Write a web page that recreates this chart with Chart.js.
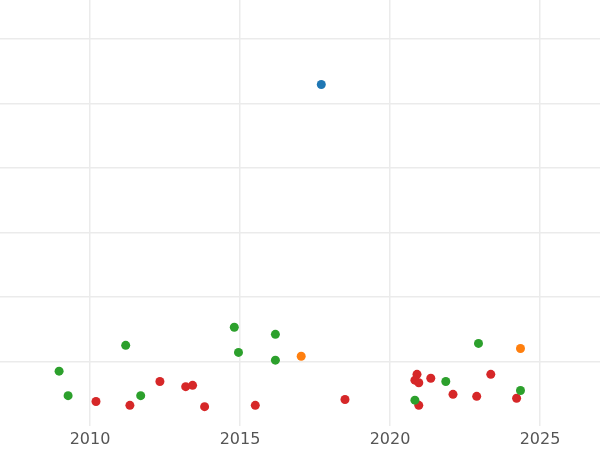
<!DOCTYPE html>
<html><head><meta charset="utf-8">
<script src="https://cdn.jsdelivr.net/npm/chart.js@4"></script>
<style>html,body{margin:0;padding:0;background:#fff}#c{display:block}</style>
</head><body>
<div style="width:600px;height:450px"><canvas id="c"></canvas></div>
<script>
const blueX=[2017.71], blueY=[5.29];
const orangeX=[2017.04,2024.35], orangeY=[1.08,1.20];
const greenX=[2008.97,2009.27,2011.19,2011.69,2014.81,2014.95,2016.18,2016.18,2020.83,2021.86,2022.95,2024.35];
const greenY=[0.85,0.47,1.25,0.47,1.53,1.14,1.42,1.02,0.40,0.69,1.28,0.55];
const redX=[2010.2,2011.33,2012.33,2013.19,2013.42,2013.82,2015.51,2018.5,2020.9,2020.83,2020.96,2020.96,2021.36,2022.1,2022.89,2023.36,2024.22];
const redY=[0.38,0.32,0.69,0.61,0.63,0.30,0.32,0.41,0.80,0.71,0.67,0.32,0.74,0.49,0.46,0.80,0.43];
const xTicks=[2010,2015,2020,2025];
const yTicks=[1,2,3,4,5,6];
const pts=(xs,ys)=>xs.map((x,i)=>({x,y:ys[i]}));
const ds=(xs,ys,c)=>({data:pts(xs,ys),backgroundColor:c,borderColor:c,pointRadius:4.5,pointHoverRadius:4.5,borderWidth:0});
new Chart(document.getElementById('c'),{
 type:'scatter',
 data:{datasets:[ds(blueX,blueY,'#1f77b4'),ds(orangeX,orangeY,'#ff7f0e'),ds(greenX,greenY,'#2ca02c'),ds(redX,redY,'#d62728')]},
 options:{responsive:true,maintainAspectRatio:false,animation:false,
  layout:{padding:0,autoPadding:false},
  plugins:{legend:{display:false},tooltip:{enabled:false}},
  scales:{
   x:{type:'linear',min:2007,max:2027,
     afterBuildTicks:a=>{a.ticks=xTicks.map(v=>({value:v}));},
     afterFit:a=>{a.height=24;},
     grid:{color:'#ebebeb',lineWidth:1.5,drawTicks:false},border:{display:false},
     ticks:{color:'#555',font:{family:'DejaVu Sans',size:16},padding:4,maxRotation:0,callback:v=>String(v)}},
   y:{type:'linear',min:0,max:6.6,
     afterBuildTicks:a=>{a.ticks=yTicks.map(v=>({value:v}));},
     afterFit:a=>{a.width=0;},
     grid:{color:'#ebebeb',lineWidth:1.5,drawTicks:false},border:{display:false},
     ticks:{display:false}}
  }}
});
</script>
</body></html>
